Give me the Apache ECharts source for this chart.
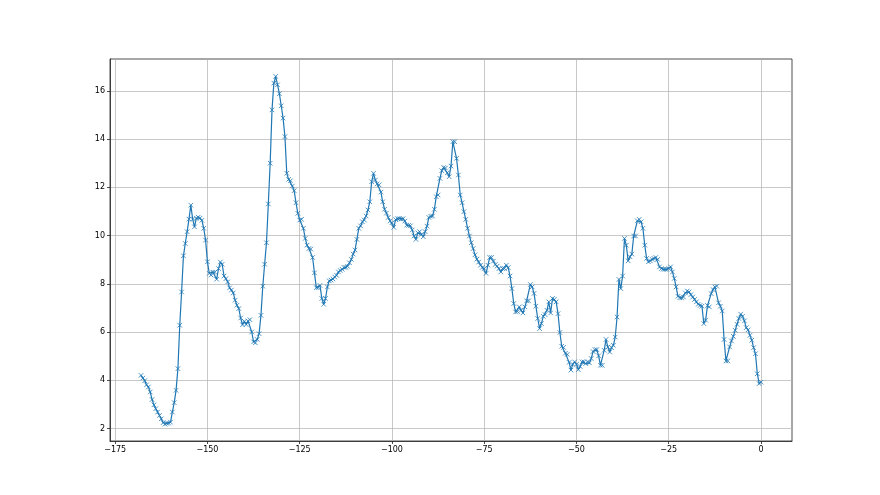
<!DOCTYPE html>
<html>
<head>
<meta charset="utf-8">
<script src="https://cdn.jsdelivr.net/npm/echarts@6/dist/echarts.min.js"></script>
<style>
html,body{margin:0;padding:0;background:#fff;}
#chart{width:880px;height:495px;}
</style>
</head>
<body>
<div id="chart"></div>
<script>
// x positions: every 0.5 from -168 to 0
const xStart = -168;
const xStep = 0.5;
const yValues = [
  // -168.0 .. -154.5
  4.20, 4.09, 3.98, 3.81, 3.72, 3.51, 3.20, 2.98, 2.82, 2.68, 2.54, 2.40, 2.24, 2.18, 2.21, 2.22, 2.26, 2.68, 3.07, 3.58, 4.48, 6.28, 7.66, 9.16, 9.67, 10.16, 10.68, 11.26,
  // -154.0 .. -131.5
  10.68, 10.36, 10.72, 10.76, 10.72, 10.63, 10.30, 9.81, 8.91, 8.43, 8.36, 8.48, 8.48, 8.19, 8.63, 8.90, 8.81, 8.32, 8.21, 8.08, 7.83, 7.74, 7.62, 7.32, 7.11, 6.97, 6.58, 6.30, 6.44, 6.31, 6.46, 6.51, 6.00, 5.59, 5.55, 5.69, 5.93, 6.69, 7.90, 8.81, 9.70, 11.31, 13.00, 15.21, 16.32, 16.60,
  // -131.0 .. -105.0
  16.25, 15.88, 15.38, 14.87, 14.10, 12.58, 12.33, 12.27, 12.05, 11.86, 11.36, 10.92, 10.64, 10.67, 10.30, 9.88, 9.60, 9.46, 9.44, 9.09, 8.45, 7.84, 7.84, 7.93, 7.39, 7.15, 7.39, 7.87, 8.12, 8.15, 8.20, 8.28, 8.35, 8.49, 8.55, 8.60, 8.68, 8.68, 8.72, 8.87, 9.01, 9.23, 9.40, 9.84, 10.30, 10.40, 10.57, 10.64, 10.81, 11.06, 11.40, 12.23, 12.58,
  // -104.5 .. -99.5
  12.30, 12.14, 12.10, 11.80, 11.40, 11.09, 10.93, 10.75, 10.60, 10.53, 10.34,
  // -99.0 .. -84.0
  10.66, 10.70, 10.70, 10.68, 10.70, 10.60, 10.43, 10.42, 10.40, 10.23, 9.98, 9.84, 10.11, 10.16, 10.05, 9.95, 10.16, 10.39, 10.75, 10.80, 10.81, 11.09, 11.61, 11.68, 12.37, 12.69, 12.82, 12.80, 12.60, 12.44, 12.88,
  // -83.5 .. -83.0
  13.89, 13.89,
  // -82.5 .. -75.0
  13.20, 12.51, 11.68, 11.36, 10.99, 10.67, 10.30, 9.98, 9.70, 9.46, 9.20, 9.02, 8.90, 8.77, 8.68, 8.63,
  // -74.5
  8.43,
  // -74.0 .. -67.0
  8.77, 9.09, 9.09, 8.94, 8.80, 8.73, 8.63, 8.49, 8.63, 8.63, 8.77, 8.67, 8.32, 7.80, 7.18,
  // -66.5 .. -51.5
  6.83, 6.85, 7.04, 6.90, 6.79, 7.04, 7.29, 7.29, 7.97, 7.87, 7.60, 7.07, 6.56, 6.14, 6.35, 6.65, 6.72, 6.90, 7.25, 6.79, 7.39, 7.35, 7.25, 6.76, 5.98, 5.41, 5.36, 5.12, 5.07, 4.74, 4.42,
  // -51.0 .. -39.5
  4.66, 4.76, 4.66, 4.44, 4.57, 4.76, 4.76, 4.69, 4.76, 4.72, 4.90, 5.19, 5.27, 5.27, 5.01, 4.62, 4.62, 5.24, 5.69, 5.38, 5.17, 5.35, 5.45, 5.79,
  // -39.0 .. -32.5
  6.62, 8.18, 7.80, 8.32, 9.88, 9.60, 8.95, 9.12, 9.23, 9.98, 9.98, 10.61, 10.67, 10.57,
  // -32.0 .. -16.0
  10.30, 9.60, 9.05, 8.91, 8.95, 9.01, 9.05, 9.09, 9.01, 8.70, 8.63, 8.60, 8.60, 8.60, 8.63, 8.70, 8.49, 8.22, 7.87, 7.48, 7.42, 7.41, 7.45, 7.62, 7.70, 7.66, 7.55, 7.45, 7.35, 7.25, 7.15, 7.10, 7.07,
  // -15.5 .. -10.0
  6.35, 6.49, 7.10, 7.04, 7.59, 7.76, 7.87, 7.90, 7.21, 7.07, 6.87, 5.69,
  // -9.5 .. 0.0
  4.80, 4.80, 5.38, 5.63, 5.82, 6.07, 6.32, 6.56, 6.74, 6.65, 6.46, 6.18, 6.09, 5.86, 5.66, 5.35, 5.10, 4.27, 3.86, 3.92
];
const xTicks = [-175, -150, -125, -100, -75, -50, -25, 0];
const yTicks = [2, 4, 6, 8, 10, 12, 14, 16];

const seriesData = yValues.map((y, i) => [xStart + i * xStep, y]);
const xMin = -176.4, xMax = 8.4, yMin = 1.48, yMax = 17.32;

const chart = echarts.init(document.getElementById('chart'), null, {renderer: 'canvas'});
const minus = v => String(v).replace('-', '\u2212');
const lbl = {fontFamily: 'DejaVu Sans', fontSize: 8, color: '#000'};
const gridLine = {lineStyle: {color: '#b0b0b0', width: 0.7}};
chart.setOption({
  animation: false,
  backgroundColor: '#fff',
  grid: {left: 110, right: 88, top: 59, bottom: 54, show: true, borderColor: '#222', borderWidth: 0.8, backgroundColor: 'transparent'},
  xAxis: {
    type: 'value', min: xMin, max: xMax,
    axisLine: {show: true, onZero: false, lineStyle: {color: '#222', width: 0.8}},
    axisTick: {show: true, customValues: xTicks, length: 3, lineStyle: {color: '#222', width: 0.8}},
    axisLabel: {show: true, customValues: xTicks, margin: 5, formatter: minus, ...lbl},
    splitLine: {show: true, ...gridLine}
  },
  yAxis: {
    type: 'value', min: yMin, max: yMax,
    axisLine: {show: true, onZero: false, lineStyle: {color: '#222', width: 0.8}},
    axisTick: {show: true, customValues: yTicks, length: 3, lineStyle: {color: '#222', width: 0.8}},
    axisLabel: {show: true, customValues: yTicks, margin: 5, formatter: minus, ...lbl},
    splitLine: {show: true, ...gridLine}
  },
  series: [{
    type: 'line',
    data: seriesData,
    showSymbol: true,
    showAllSymbol: true,
    symbol: 'path://M0,0L10,10M10,0L0,10',
    symbolSize: 4.5,
    itemStyle: {color: '#1f77b4', borderColor: '#1f77b4', borderWidth: 0.8},
    lineStyle: {color: '#1f77b4', width: 1.2},
    emphasis: {disabled: true}
  }]
});
</script>
</body>
</html>
